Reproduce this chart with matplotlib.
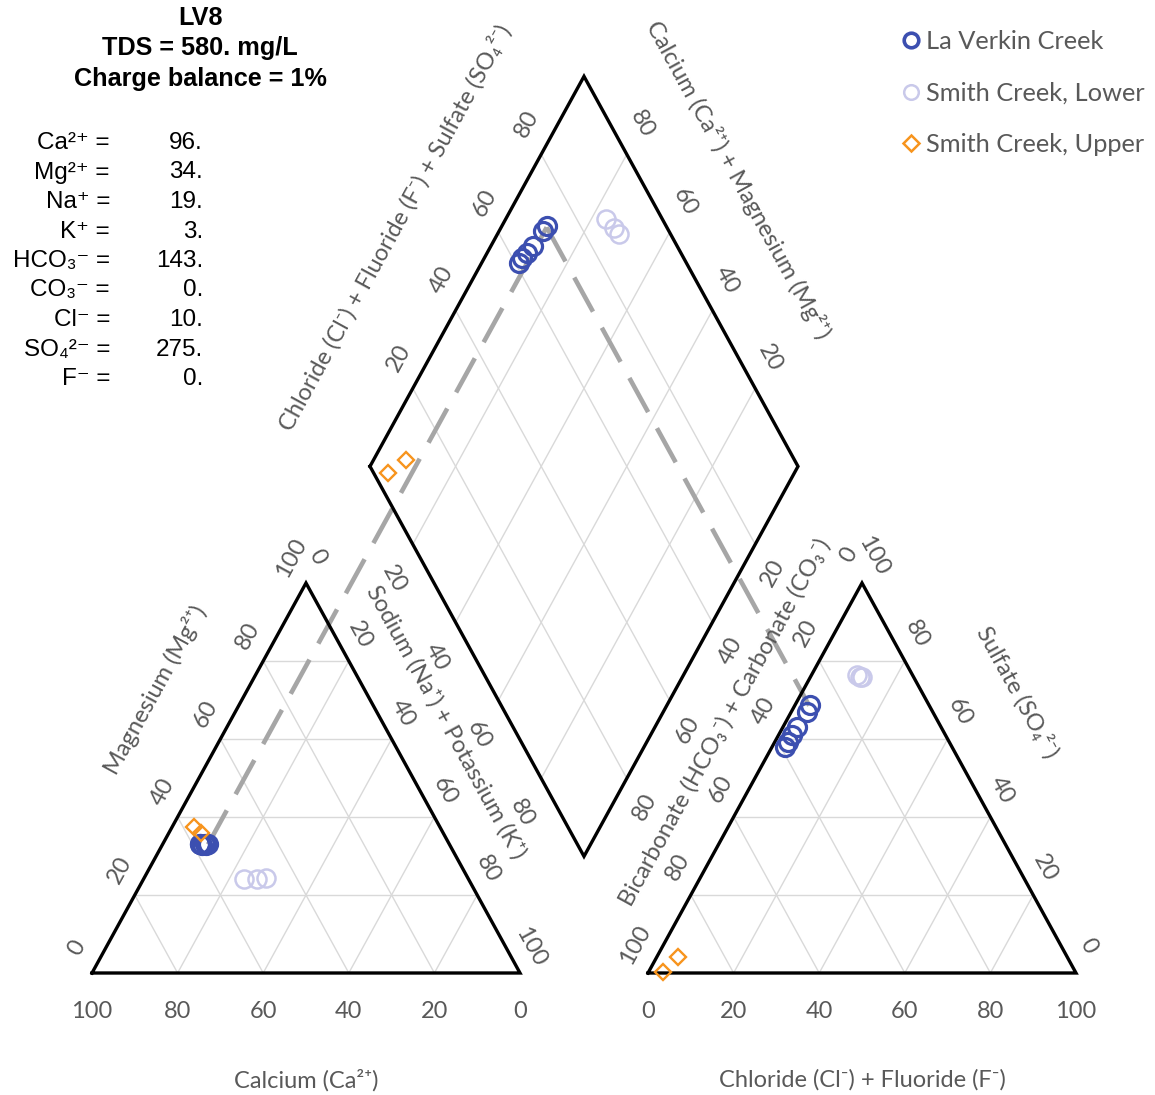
import numpy as np
import matplotlib.pyplot as plt
from matplotlib.lines import Line2D

# ---- sample composition, meq % of cations / anions ----
site_names = ["La Verkin Creek", "Smith Creek, Lower", "Smith Creek, Upper"]
site_colors = ["#3c4fb0", "#c9c9ea", "#f7941d"]
site_markers = ["o", "o", "D"]

lv_ca = [56.5, 56.9, 57.1, 57.8, 58.1, 58.1]
lv_mg = [33.0, 32.9, 33.0, 32.8, 33.1, 33.2]
lv_nak = [10.5, 10.2, 9.9, 9.4, 8.8, 8.7]
lv_hco3 = [27.8, 29.4, 33.6, 35.9, 37.7, 39.1]
lv_cl = [3.5, 3.7, 3.3, 3.1, 3.1, 3.0]
lv_so4 = [68.7, 66.9, 63.1, 61.0, 59.2, 57.9]

scl_ca = [52.4, 49.4, 47.2]
scl_mg = [24.1, 24.1, 24.4]
scl_nak = [23.5, 26.5, 28.4]
scl_hco3 = [13.0, 12.5, 12.0]
scl_cl = [10.6, 11.6, 12.2]
scl_so4 = [76.4, 75.9, 75.8]

scu_ca = [57.5, 56.6]
scu_mg = [37.4, 35.9]
scu_nak = [5.1, 7.5]
scu_hco3 = [96.5, 90.9]
scu_cl = [3.3, 5.0]
scu_so4 = [0.2, 4.1]

# LV8 analysis, mg/L
lv8_ions = ["Ca²⁺", "Mg²⁺", "Na⁺", "K⁺", "HCO₃⁻", "CO₃⁻", "Cl⁻", "SO₄²⁻", "F⁻"]
lv8_mgl = [96, 34, 19, 3, 143, 0, 10, 275, 0]
lv8_eqw = [20.04, 12.15, 22.99, 39.10, 61.02, 30.00, 35.45, 48.03, 19.00]
lv8_tds = 580
lv8_cb = 1

ticks = [0, 20, 40, 60, 80, 100]

# ---- layout (pixel-like units, y down) ----
X0, Y0 = 92, 973          # lower-left corner of the cation triangle
W, H = 428, 390           # triangle base and height
GAP = 128
RX0 = X0 + W + GAP        # lower-left corner of the anion triangle
BD = np.array([X0 + W + GAP / 2, Y0 - (GAP / 2) * H / (W / 2)])
DL = BD + np.array([-W / 2, -H])
DT = DL + np.array([W / 2, -H])
DR = BD + np.array([W / 2, -H])

GRID = "#d9d9d9"
TXT = "#595959"
SANS = ["Lato", "DejaVu Sans"]
ARIAL = ["Liberation Sans", "DejaVu Sans"]
ANG = np.degrees(np.arctan2(H, W / 2))
FS_TICK = 17
FS_TITLE = 17


def cation_xy(mg, nak):
    mg, nak = np.asarray(mg) / 100, np.asarray(nak) / 100
    return X0 + nak * W + mg * W / 2, Y0 - mg * H


def anion_xy(cl, so4):
    cl, so4 = np.asarray(cl) / 100, np.asarray(so4) / 100
    return RX0 + cl * W + so4 * W / 2, Y0 - so4 * H


def diamond_xy(cl, so4, nak):
    s = (np.asarray(cl) + np.asarray(so4)) / 100
    w = np.asarray(nak) / 100
    p = DL[:, None] + np.outer(DT - DL, s) + np.outer(BD - DL, w)
    return p[0], p[1]


fig = plt.figure(figsize=(11.55, 10.95), dpi=100)
ax = fig.add_axes([0, 0, 1, 1])
ax.set_xlim(0, 1155)
ax.set_ylim(1095, 0)
ax.axis("off")


def seg(p, q, **kw):
    ax.plot([p[0], q[0]], [p[1], q[1]], **kw)


# triangles: grid + outline
for ox in (X0, RX0):
    a = np.array([ox, Y0]); b = np.array([ox + W, Y0]); c = np.array([ox + W / 2, Y0 - H])
    for f in (0.2, 0.4, 0.6, 0.8):
        seg(a + f * (c - a), b + f * (c - b), color=GRID, lw=1, zorder=1)
        seg(a + f * (b - a), c + f * (b - c), color=GRID, lw=1, zorder=1)
        seg(b + f * (a - b), c + f * (a - c), color=GRID, lw=1, zorder=1)
    pts = np.array([a, b, c, a])
    ax.plot(pts[:, 0], pts[:, 1], color="black", lw=2.4, zorder=3,
            solid_joinstyle="miter")

# diamond: grid + outline
for f in (0.2, 0.4, 0.6, 0.8):
    seg(DL + f * (DT - DL), BD + f * (DR - BD), color=GRID, lw=1, zorder=1)
    seg(DL + f * (BD - DL), DT + f * (DR - DT), color=GRID, lw=1, zorder=1)
pts = np.array([DL, DT, DR, BD, DL])
ax.plot(pts[:, 0], pts[:, 1], color="black", lw=2.4, zorder=3,
        solid_joinstyle="miter")


def tick_labels(p0, p1, values, off, rot):
    for v in values:
        p = p0 + v / 100 * (p1 - p0)
        ax.text(p[0] + off[0], p[1] + off[1], f"{v}", rotation=rot,
                rotation_mode="anchor", ha="center", va="center",
                fontsize=FS_TICK, color=TXT, family=SANS)


apexL = np.array([X0 + W / 2, Y0 - H])
apexR = np.array([RX0 + W / 2, Y0 - H])
tick_labels(np.array([X0, Y0]), apexL, ticks, (-15, -25), ANG)
tick_labels(apexL, np.array([X0 + W, Y0]), ticks, (11, -26), -ANG)
tick_labels(np.array([X0 + W, Y0]), np.array([X0, Y0]), ticks, (0, 39), 0)
tick_labels(apexR, np.array([RX0, Y0]), ticks, (-13, -28), ANG)
tick_labels(np.array([RX0 + W, Y0]), apexR, ticks, (12, -27), -ANG)
tick_labels(np.array([RX0, Y0]), np.array([RX0 + W, Y0]), ticks, (0, 39), 0)
inner = ticks[1:-1]
tick_labels(DL, DT, inner, (-14, -30), ANG)
tick_labels(DR, DT, inner, (15, -30), -ANG)
tick_labels(DL, BD, inner, (-19, 35), -ANG)
tick_labels(DR, BD, inner, (18, 29), ANG)

# axis titles
titles = [
    ("Magnesium (Mg²⁺)", 155, 690, ANG),
    ("Sodium (Na⁺) + Potassium (K⁺)", 446, 722, -ANG),
    ("Calcium (Ca²⁺)", X0 + W / 2, 1080, 0),
    ("Chloride (Cl⁻) + Fluoride (F⁻)", RX0 + W / 2, 1080, 0),
    ("Sulfate (SO₄²⁻)", 1018, 692, -ANG),
    ("Bicarbonate (HCO₃⁻) + Carbonate (CO₃⁻)", 725, 722, ANG),
    ("Chloride (Cl⁻) + Fluoride (F⁻) + Sulfate (SO₄²⁻)", 395, 228, ANG),
    ("Calcium (Ca²⁺) + Magnesium (Mg²⁺)", 738, 180, -ANG),
]
for t, x, y, r in titles:
    ax.text(x, y, t, rotation=r, rotation_mode="anchor", ha="center",
            va="center", fontsize=FS_TITLE, color=TXT, family=SANS)

# LV8 projection path
meq = np.array(lv8_mgl) / np.array(lv8_eqw)
cat, an = meq[:4], meq[4:]
lv8_mg = 100 * cat[1] / cat.sum()
lv8_nak = 100 * (cat[2] + cat[3]) / cat.sum()
lv8_cl = 100 * (an[2] + an[4]) / an.sum()
lv8_so4 = 100 * an[3] / an.sum()
pc = cation_xy(lv8_mg, lv8_nak)
pa = anion_xy(lv8_cl, lv8_so4)
pdx, pdy = diamond_xy([lv8_cl], [lv8_so4], [lv8_nak])
dash = dict(color="#a6a6a6", lw=3.3, dashes=(8.5, 4.0), zorder=2,
            solid_capstyle="butt")
ax.plot([pc[0], pdx[0]], [pc[1], pdy[0]], **dash)
ax.plot([pdx[0], pa[0]], [pdy[0], pa[1]], **dash)

# samples
groups = [
    (lv_mg, lv_nak, lv_cl, lv_so4),
    (scl_mg, scl_nak, scl_cl, scl_so4),
    (scu_mg, scu_nak, scu_cl, scu_so4),
]
styles = [dict(ms=13, mew=2.3), dict(ms=13, mew=1.8), dict(ms=8, mew=1.7)]
for (mg, nak, cl, so4), col, mk, st in zip(groups, site_colors, site_markers, styles):
    for x, y in (cation_xy(mg, nak), anion_xy(cl, so4), diamond_xy(cl, so4, nak)):
        ax.plot(x, y, ls="none", marker=mk, mfc="none", mec=col, zorder=4, **st)

# legend
handles = [
    Line2D([], [], ls="none", marker="o", mfc="none", mec=site_colors[0], ms=10.5, mew=2.6),
    Line2D([], [], ls="none", marker="o", mfc="none", mec=site_colors[1], ms=10.5, mew=1.8),
    Line2D([], [], ls="none", marker="D", mfc="none", mec=site_colors[2], ms=8, mew=1.8),
]
leg = ax.legend(handles, site_names, loc="upper left",
                bbox_to_anchor=(903 / 1155, 1 - 30 / 1095), frameon=False,
                handlelength=0.65, handletextpad=0.25, labelspacing=1.12,
                borderpad=0, borderaxespad=0,
                prop=dict(family=SANS, size=18.3))
for t in leg.get_texts():
    t.set_color(TXT)

# header text block
head = ["LV8", f"TDS = {lv8_tds}. mg/L", f"Charge balance = {lv8_cb}%"]
for i, t in enumerate(head):
    ax.text(200, 18 + i * 30.5, t, ha="center", va="center", fontsize=18.2,
            fontweight="bold", family=ARIAL, color="black")
for i, (ion, v) in enumerate(zip(lv8_ions, lv8_mgl)):
    y = 143 + i * 29.5
    ax.text(110, y, f"{ion} =", ha="right", va="center", fontsize=17.5,
            family=ARIAL, color="black")
    ax.text(203, y, f"{v}.", ha="right", va="center", fontsize=17.5,
            family=ARIAL, color="black")

fig.savefig("out.png", dpi=100)
